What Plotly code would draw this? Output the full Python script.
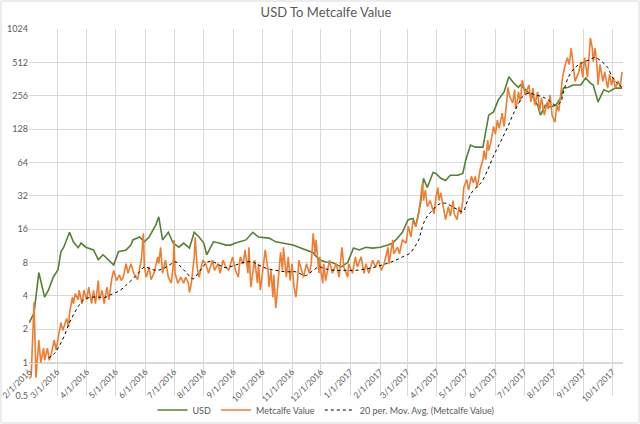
import pandas as pd
import plotly.graph_objects as go

START = "2016-02-01"

# USD series (days since 2016-02-01, value)
usd_day = [0, 5, 10, 16, 20, 25, 30, 33, 36, 42, 46, 51, 54, 59, 67, 72, 77, 82, 88, 93,
           101, 106, 108, 115, 120, 125, 132, 135, 139, 145, 150, 156, 161, 167, 172, 177,
           182, 185, 192, 198, 205, 210, 215, 226, 233, 239, 250, 257, 265, 275, 281, 288,
           296, 302, 309, 316, 325, 332, 338, 344, 351, 358, 366, 374, 379, 384, 389, 395,
           400, 403, 408, 411, 415, 421, 424, 429, 434, 439, 447, 452, 455, 460, 465, 473,
           476, 479, 484, 489, 495, 500, 505, 510, 512, 517, 525, 530, 533, 538, 543, 549,
           554, 557, 562, 567, 575, 580, 585, 588, 593, 599, 604, 611, 618]
usd_val = [2.3, 2.8, 6.5, 3.9, 4.5, 5.9, 6.9, 10, 11, 15, 12.3, 10.9, 12, 11, 10.4, 8.5, 9.4, 8.5, 7.6, 10,
           10.4, 11.5, 12.8, 13.6, 12.3, 13.6, 17.5, 20.7, 12.8, 15, 12, 11, 12, 10.8, 15, 13.6,
           12, 9.4, 12.3, 12, 11.5, 11.5, 12, 12.8, 15, 13.6, 13.3, 12.3, 12, 11.5, 11, 10.4,
           9.8, 8.5, 8.1, 8, 7.3, 8, 10.8, 10.4, 11, 10.8, 11, 11.5, 12, 13.3, 15, 19.5,
           20, 17, 27.6, 46, 38, 52, 51, 46, 44, 49, 49, 51, 67, 92, 88, 88,
           120, 171, 183, 235, 277, 380, 333, 305, 320, 290, 250, 210, 171, 210, 203, 210,
           245, 300, 305, 320, 320, 370, 333, 320, 225, 290, 277, 300, 300]

# Metcalfe Value series
met_day = [0, 2, 5, 7, 10, 12, 15, 16, 19, 21, 23, 26, 28, 31, 33, 35, 39, 41, 42, 45,
           46, 48, 51, 52, 55, 57, 60, 62, 65, 67, 69, 72, 73, 76, 78, 81, 83, 86, 88, 91,
           94, 96, 98, 101, 103, 106, 109, 113, 117, 119, 120, 122, 125, 127, 130, 134, 135, 137, 139, 142,
           145, 148, 150, 151, 152, 155, 158, 161, 163, 166, 167, 169, 171, 172, 173, 175, 177, 181, 184, 187,
           191, 193, 197, 199, 202, 205, 208, 212, 215, 218, 220, 223, 225, 228, 229, 231, 233, 235, 238, 239,
           241, 244, 246, 249, 250, 252, 254, 255, 257, 259, 260, 262, 264, 265, 268, 270, 272, 274, 276, 278,
           280, 281, 284, 286, 289, 292, 294, 296, 298, 299, 302, 303, 304, 306, 307, 309, 313, 316, 320, 323,
           326, 328, 332, 333, 337, 340, 342, 346, 349, 351, 354, 358, 361, 364, 367, 370, 374, 375, 379, 380,
           384, 386, 389, 393, 395, 398, 400, 403, 406, 408, 410, 411, 413, 415, 418, 422, 424, 426, 427, 429,
           432, 434, 437, 439, 442, 443, 446, 448, 450, 452, 453, 456, 458, 461, 463, 465, 467, 470, 473, 474,
           476, 478, 479, 481, 484, 486, 488, 490, 493, 495, 498, 499, 501, 504, 506, 507, 509, 510, 512, 514,
           517, 521, 523, 525, 527, 530, 532, 534, 537, 540, 541, 543, 545, 548, 550, 552, 554, 556, 558, 561,
           563, 565, 567, 569, 573, 575, 577, 579, 582, 583, 585, 587, 588, 590, 592, 593, 595, 598, 600, 603,
           605, 607, 609, 611, 614, 616, 618]
met_val = [0.72, 0.75, 3.5, 0.73, 1.6, 1.0, 1.35, 1.05, 1.35, 1.05, 1.2, 1.6, 1.3, 1.95, 2.3, 1.95, 2.5, 2.1, 2.8, 3.9,
           3.4, 4.2, 3.7, 4.5, 3.4, 4.5, 3.7, 4.8, 3.4, 4.5, 3.4, 5.5, 3.7, 4.5, 3.4, 4.8, 3.7, 5.7, 6.8, 5.5,
           6.2, 5.5, 5.9, 7.8, 6.4, 7.8, 6.4, 5.6, 8.7, 14.7, 7.3, 5.9, 7.3, 5.6, 6.4, 9, 7.8, 11, 6.4, 8.4,
           5.9, 5.2, 7.3, 12.8, 6.4, 5.2, 5.9, 5.2, 5.9, 5.2, 4.3, 5.2, 7.3, 9, 13.5, 7.3, 5.9, 8.4, 7.8, 6.4,
           8.4, 6.8, 7.8, 6.4, 8.4, 7.3, 6.8, 9, 6.8, 5.9, 9, 7.8, 10.4, 6.4, 11, 4.8, 6.4, 8.4, 5.2, 7.8,
           4.5, 7.3, 10.4, 6.8, 4.8, 6.8, 3.9, 6.2, 3.1, 4.8, 5.9, 9.9, 6.8, 11, 5.9, 9, 5.5, 7.8, 4.8, 3.9,
           5.9, 8.4, 6.8, 5.9, 7.8, 6.4, 7.8, 14.7, 9.6, 12.8, 6.4, 9, 6.8, 5.2, 7.8, 5.5, 8.4, 6.4, 7.8, 5.9,
           11, 7.3, 5.9, 7.8, 6.4, 9, 7.3, 9, 6.4, 7.8, 6.4, 8.4, 7.3, 8.4, 6.8, 7.8, 11, 7.8, 12.8, 9.6,
           11, 9.6, 12.8, 12, 17, 13.6, 19, 17, 22, 29, 42, 29, 36, 25.5, 29, 22, 31, 38, 29, 34,
           25.5, 19.5, 25.5, 21, 29, 22, 19.5, 25.5, 22, 29, 38, 45, 36, 48, 42, 48, 38, 55, 68, 82,
           68, 102, 82, 95, 135, 115, 154, 130, 178, 135, 235, 305, 250, 220, 290, 195, 235, 277, 225, 355,
           260, 320, 225, 300, 210, 277, 185, 245, 171, 225, 195, 260, 171, 148, 210, 185, 260, 375, 460, 565,
           490, 690, 490, 345, 420, 520, 375, 565, 375, 490, 850, 690, 520, 690, 460, 320, 490, 345, 420, 300,
           400, 320, 375, 300, 345, 305, 420]

# 20 per. Mov. Avg. (Metcalfe Value)
ma_day = [20, 26, 31, 36, 42, 47, 52, 57, 65, 72, 80, 85, 93, 99, 101, 108, 115, 120, 125, 132,
          139, 146, 153, 158, 163, 171, 176, 181, 186, 192, 198, 205, 215, 226, 233, 239, 247, 257, 268, 278,
          288, 296, 302, 309, 320, 330, 340, 351, 361, 372, 382, 389, 396, 401, 406, 408, 411, 415, 421, 426,
          431, 436, 441, 447, 452, 457, 463, 471, 478, 484, 491, 499, 505, 511, 514, 521, 528, 535, 541, 549,
          554, 557, 562, 569, 577, 583, 590, 598, 603, 608, 613, 618]
ma_val = [1.1, 1.2, 1.4, 1.7, 2.3, 2.8, 3.3, 3.7, 3.9, 3.9, 3.9, 4.1, 4.4, 4.8, 5.0, 5.7, 6.6, 7.3, 7.1, 6.8,
          7.0, 7.6, 8.1, 7.3, 6.6, 5.7, 6.4, 7.3, 8.1, 8.1, 7.6, 7.2, 7.6, 8.1, 8.1, 7.6, 7.1, 6.8, 6.6, 6.6,
          6.1, 6.8, 7.3, 7.0, 6.8, 6.8, 6.8, 7.0, 7.3, 7.8, 8.4, 9, 9.6, 10.8, 12.8, 14.7, 18, 21, 24, 26.5,
          27.6, 27, 25.5, 24, 23, 29, 36, 42, 55, 73, 97, 135, 178, 225, 250, 270, 260, 250, 235, 210,
          225, 277, 375, 460, 510, 535, 565, 510, 460, 375, 333, 305]

# Axis ticks
month_ticks = ["2016-02-01", "2016-03-01", "2016-04-01", "2016-05-01", "2016-06-01", "2016-07-01",
               "2016-08-01", "2016-09-01", "2016-10-01", "2016-11-01", "2016-12-01", "2017-01-01",
               "2017-02-01", "2017-03-01", "2017-04-01", "2017-05-01", "2017-06-01", "2017-07-01",
               "2017-08-01", "2017-09-01", "2017-10-01"]
month_labels = ["2/1/2016", "3/1/2016", "4/1/2016", "5/1/2016", "6/1/2016", "7/1/2016",
                "8/1/2016", "9/1/2016", "10/1/2016", "11/1/2016", "12/1/2016", "1/1/2017",
                "2/1/2017", "3/1/2017", "4/1/2017", "5/1/2017", "6/1/2017", "7/1/2017",
                "8/1/2017", "9/1/2017", "10/1/2017"]
y_ticks = [0.5, 1, 2, 4, 8, 16, 32, 64, 128, 256, 512, 1024]
y_labels = ["0.5", "1", "2", "4", "8", "16", "32", "64", "128", "256", "512", "1024"]


def to_dates(days):
    return pd.Timestamp(START) + pd.to_timedelta(days, unit="D")


FONT = "Lato, 'Open Sans', sans-serif"
GRAY = "#595959"
GRID = "#D9D9D9"

fig = go.Figure()
fig.add_trace(go.Scatter(x=to_dates(usd_day), y=usd_val, mode="lines", name="USD",
                         line=dict(color="#548235", width=1.6)))
fig.add_trace(go.Scatter(x=to_dates(met_day), y=met_val, mode="lines", name="Metcalfe Value",
                         line=dict(color="#ED7D31", width=1.6)))
fig.add_trace(go.Scatter(x=to_dates(ma_day), y=ma_val, mode="lines",
                         name="20 per. Mov. Avg. (Metcalfe Value)",
                         line=dict(color="#000000", width=1, dash="dot", shape="spline")))

fig.update_layout(
    width=640, height=424,
    margin=dict(l=29, r=17, t=29, b=28, autoexpand=False),
    paper_bgcolor="white", plot_bgcolor="white",
    font=dict(family=FONT, size=9, color=GRAY),
    title=dict(text="USD To Metcalfe Value", x=0.5, xanchor="center", xref="paper",
               yref="container", y=1 - 12 / 424, yanchor="middle",
               font=dict(family=FONT, size=13, color=GRAY)),
    showlegend=True,
    legend=dict(orientation="h", x=0.5, xanchor="center", yref="container", y=14 / 424,
                yanchor="middle", font=dict(family=FONT, size=9, color=GRAY),
                itemwidth=30, bgcolor="rgba(0,0,0,0)"),
    xaxis=dict(type="date", range=["2016-01-31 18:00", "2017-10-12"],
               tickmode="array", tickvals=month_ticks, ticktext=month_labels, tickangle=-45,
               ticklabeloverflow="allow",
               showgrid=True, gridcolor=GRID, gridwidth=1,
               showline=True, linecolor=GRID, linewidth=1,
               anchor="free", position=1 / 11,
               ticks="", tickfont=dict(family=FONT, size=8.5, color=GRAY)),
    yaxis=dict(type="log", range=[-0.30103, 3.0103], tickmode="array",
               tickvals=y_ticks, ticktext=y_labels,
               showgrid=True, gridcolor=GRID, gridwidth=1, showline=False,
               ticks="", tickfont=dict(family=FONT, size=9, color=GRAY),
               domain=[0, 1]),
)

fig.add_shape(type="rect", xref="paper", yref="paper", x0=-28 / 594, x1=1 + 16 / 594,
              y0=-27 / 367, y1=1 + 28 / 367, line=dict(color="#D9D9D9", width=1))

fig.write_html("out.html", config={"displayModeBar": False},
               post_script="document.body.style.margin='0px';")
